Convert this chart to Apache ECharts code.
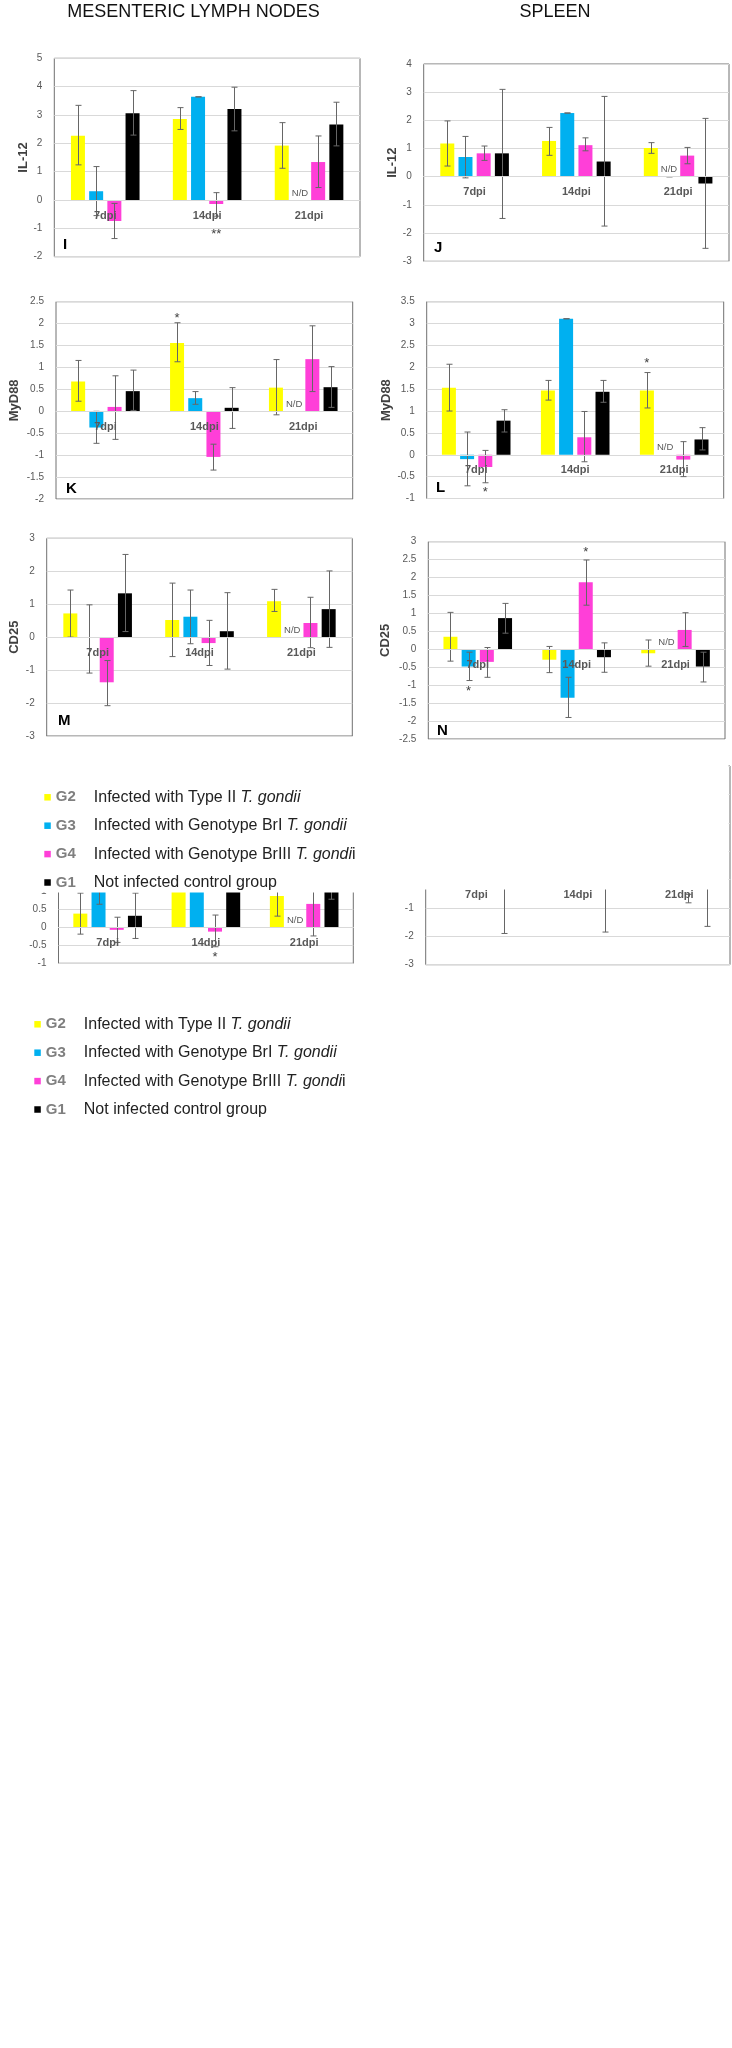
<!DOCTYPE html>
<html>
<head>
<meta charset="utf-8">
<script src="https://cdn.jsdelivr.net/npm/echarts@6/dist/echarts.min.js"></script>
<style>
html,body{margin:0;padding:0;background:#fff;}
#chart{width:732px;height:2048px;}
</style>
</head>
<body>
<div id="chart"></div>
<script>
// ---------------- DATA ----------------
const CATS = ['7dpi', '14dpi', '21dpi'];
const GROUPS = ['G2', 'G3', 'G4', 'G1'];
const LEGEND_TEXT = [
  ['Infected with Type II ', 'T. gondii', ''],
  ['Infected with Genotype BrI ', 'T. gondii', ''],
  ['Infected with Genotype BrIII ', 'T. gondi', 'i'],
  ['Not infected control group', '', '']
];
// order of rows: G2, G3, G4, G1 ; columns: 7dpi, 14dpi, 21dpi
// Panel I  (MLN, IL-12)
const I_MEAN = [[2.27, 2.86, 1.92], [0.31, 3.64, null], [-0.74, -0.14, 1.34], [3.06, 3.21, 2.66]];
const I_LOW  = [[1.24, 2.49, 1.12], [-0.55, 3.64, null], [-1.36, -0.57, 0.44], [2.29, 2.44, 1.91]];
const I_HIGH = [[3.34, 3.26, 2.73], [1.18, 3.64, null], [-0.12, 0.26, 2.26], [3.86, 3.98, 3.45]];
const I_NOTES = [[1, 2, -1.1, '**'], [2, 1, 0, 'N/D']];
// Panel J  (Spleen, IL-12)
const J_MEAN = [[1.18, 1.27, 1.02], [0.70, 2.26, null], [0.83, 1.12, 0.75], [0.83, 0.54, -0.24]];
const J_LOW  = [[0.38, 0.76, 0.83], [-0.04, 2.26, 0], [0.58, 0.92, 0.46], [-1.48, -1.75, -2.54]];
const J_HIGH = [[1.98, 1.75, 1.21], [1.43, 2.26, 0], [1.09, 1.38, 1.04], [3.10, 2.85, 2.07]];
const J_NOTES = [[2, 1, 0, 'N/D']];
// Panel K  (MLN, MyD88)
const K_MEAN = [[0.68, 1.56, 0.54], [-0.37, 0.30, null], [0.10, -1.04, 1.19], [0.46, 0.08, 0.55]];
const K_LOW  = [[0.23, 1.13, -0.08], [-0.73, 0.16, null], [-0.64, -1.34, 0.45], [0.02, -0.39, 0.09]];
const K_HIGH = [[1.16, 2.02, 1.18], [0.0, 0.45, null], [0.81, -0.75, 1.95], [0.94, 0.54, 1.02]];
const K_NOTES = [[1, 0, 2.18, '*'], [2, 1, 0, 'N/D']];
// Panel L  (Spleen, MyD88)
const L_MEAN = [[1.53, 1.47, 1.47], [-0.10, 3.11, null], [-0.28, 0.40, -0.11], [0.78, 1.44, 0.35]];
const L_LOW  = [[1.00, 1.25, 1.07], [-0.71, 3.11, null], [-0.64, -0.16, -0.50], [0.52, 1.20, 0.11]];
const L_HIGH = [[2.07, 1.70, 1.88], [0.52, 3.11, null], [0.10, 0.99, 0.30], [1.03, 1.70, 0.62]];
const L_NOTES = [[0, 2, -0.80, '*'], [2, 0, 2.16, '*'], [2, 1, 0, 'N/D']];
// Panel M  (MLN, CD25)
const M_MEAN = [[0.72, 0.52, 1.09], [-0.02, 0.62, null], [-1.37, -0.18, 0.43], [1.33, 0.18, 0.85]];
const M_LOW  = [[0.0, -0.59, 0.78], [-1.09, -0.20, null], [-2.08, -0.86, -0.32], [0.17, -0.97, -0.31]];
const M_HIGH = [[1.43, 1.64, 1.45], [0.98, 1.43, null], [-0.71, 0.51, 1.21], [2.51, 1.35, 2.01]];
const M_NOTES = [[2, 1, 0, 'N/D']];
// Panel N  (Spleen, CD25)
const N_MEAN = [[0.35, -0.29, -0.11], [-0.48, -1.35, null], [-0.35, 1.87, 0.54], [0.87, -0.22, -0.48]];
const N_LOW  = [[-0.33, -0.65, -0.47], [-0.87, -1.90, null], [-0.78, 1.23, 0.08], [0.45, -0.64, -0.91]];
const N_HIGH = [[1.03, 0.08, 0.26], [-0.08, -0.78, null], [0.05, 2.49, 1.02], [1.28, 0.18, -0.08]];
const N_NOTES = [[0, 1, -1.09, '*'], [1, 2, 2.79, '*'], [2, 1, 0, 'N/D']];
// Fragment P (left, partly hidden)
const P_MEAN = [[0.38, 1.4, 0.87], [1.3, 1.6, null], [-0.07, -0.12, 0.65], [0.32, 1.5, 1.1]];
const P_LOW  = [[-0.19, null, 0.31], [0.64, null, null], [-0.42, -0.54, -0.24], [-0.31, null, 0.78]];
const P_HIGH = [[0.95, null, 1.43], [1.96, null, null], [0.28, 0.34, 1.54], [0.95, null, 1.42]];
const P_NOTES = [[1, 2, -0.74, '*'], [2, 1, 0, 'N/D']];
// Fragment Q (right, partly hidden)
const Q_MEAN = [[null, null, null], [null, null, null], [null, null, null], [null, null, null]];
const Q_LOW  = [[null, null, null], [null, null, null], [null, null, -0.82], [-1.90, -1.85, -1.65]];
const Q_HIGH = [[null, null, null], [null, null, null], [null, null, -0.52], [0, 0, 0]];
const Q_NOTES = [];

// ---------------- STYLE / LAYOUT ----------------
const COLORS = ['#ffff00', '#00b0f0', '#ff3fd8', '#000000'];
const FONT = 'Liberation Sans';
const BAR_W = 14, BAR_GAP = 0.3, STEP = BAR_W * (1 + BAR_GAP);

const PANELS = [
  {mean: I_MEAN, low: I_LOW, high: I_HIGH, notes: I_NOTES, grid: {left: 54.3, top: 58.3, width: 305.7, height: 198.4}, y: {min: -2, max: 5, interval: 1, name: 'IL-12', gap: 24}, letter: {t: 'I', x: 63, y: 245}},
  {mean: J_MEAN, low: J_LOW, high: J_HIGH, notes: J_NOTES, grid: {left: 423.7, top: 64, width: 305.3, height: 197.3}, y: {min: -3, max: 4, interval: 1, name: 'IL-12', gap: 24}, letter: {t: 'J', x: 434, y: 248}},
  {mean: K_MEAN, low: K_LOW, high: K_HIGH, notes: K_NOTES, grid: {left: 56, top: 301.7, width: 296.7, height: 197.3}, y: {min: -2, max: 2.5, interval: 0.5, name: 'MyD88', gap: 35}, letter: {t: 'K', x: 66, y: 489}},
  {mean: L_MEAN, low: L_LOW, high: L_HIGH, notes: L_NOTES, grid: {left: 426.7, top: 301.7, width: 297, height: 196.8}, y: {min: -1, max: 3.5, interval: 0.5, name: 'MyD88', gap: 34}, letter: {t: 'L', x: 436, y: 488}},
  {mean: M_MEAN, low: M_LOW, high: M_HIGH, notes: M_NOTES, grid: {left: 46.7, top: 538.3, width: 305.6, height: 197.7}, y: {min: -3, max: 3, interval: 1, name: 'CD25', gap: 26}, letter: {t: 'M', x: 58, y: 721}},
  {mean: N_MEAN, low: N_LOW, high: N_HIGH, notes: N_NOTES, grid: {left: 428.3, top: 541.7, width: 296.7, height: 197.3}, y: {min: -2.5, max: 3, interval: 0.5, name: 'CD25', gap: 36}, letter: {t: 'N', x: 437, y: 731}},
  {mean: P_MEAN, low: P_LOW, high: P_HIGH, notes: P_NOTES, grid: {left: 58.5, top: 783.3, width: 294.8, height: 180}, y: {min: -1, max: 4, interval: 0.5, name: '', gap: 30}, letter: null},
  {mean: Q_MEAN, low: Q_LOW, high: Q_HIGH, notes: Q_NOTES, grid: {left: 425.7, top: 766, width: 304.3, height: 198.7}, y: {min: -3, max: 4, interval: 1, name: '', gap: 30}, letter: null}
];

function errRows(low, high) {
  const rows = [];
  for (let s = 0; s < GROUPS.length; s++)
    for (let c = 0; c < CATS.length; c++)
      if (low[s][c] != null && high[s][c] != null) rows.push([c, s, low[s][c], high[s][c]]);
  return rows;
}
function errRender(params, api) {
  const c = api.value(0), s = api.value(1);
  const pLo = api.coord([c, api.value(2)]);
  const pHi = api.coord([c, api.value(3)]);
  const x = Math.round(pLo[0] + (s - 1.5) * STEP) + 0.5;
  const st = {stroke: '#666666', lineWidth: 1};
  return {type: 'group', children: [
    {type: 'line', shape: {x1: x, y1: pHi[1], x2: x, y2: pLo[1]}, style: st},
    {type: 'line', shape: {x1: x - 3, y1: pHi[1], x2: x + 3, y2: pHi[1]}, style: st},
    {type: 'line', shape: {x1: x - 3, y1: pLo[1], x2: x + 3, y2: pLo[1]}, style: st}
  ]};
}
function noteRender(notes) {
  return function (params, api) {
    const n = notes[params.dataIndex];
    const p = api.coord([api.value(0), api.value(2)]);
    const x = p[0] + (api.value(1) - 1.5) * STEP;
    if (n[3] === 'N/D') {
      return {type: 'text', x: x, y: p[1] - 2, style: {text: 'N/D', fill: '#595959', font: '9.5px "' + FONT + '"', align: 'center', verticalAlign: 'bottom'}};
    }
    return {type: 'text', x: x, y: p[1] + 3, style: {text: n[3], fill: '#404040', font: '13px "' + FONT + '"', align: 'center', verticalAlign: 'middle'}};
  };
}

const grids = [], xAxes = [], yAxes = [], series = [], graphics = [];
PANELS.forEach((p, i) => {
  grids.push(Object.assign({show: true, borderColor: '#707070', borderWidth: 1, backgroundColor: 'transparent', containLabel: false}, p.grid));
  // place the category axis (line + labels) on the zero value of the y scale
  const zeroOffset = -p.grid.height * (0 - p.y.min) / (p.y.max - p.y.min);
  xAxes.push({type: 'category', gridIndex: i, data: CATS, z: 10, position: 'bottom', offset: zeroOffset,
    axisLine: {onZero: false, lineStyle: {color: '#d9d9d9', width: 1}},
    axisTick: {show: false},
    axisLabel: {color: '#595959', fontWeight: 'bold', fontSize: 11, fontFamily: FONT, margin: 10}});
  yAxes.push({type: 'value', gridIndex: i, min: p.y.min, max: p.y.max, interval: p.y.interval,
    name: p.y.name, nameLocation: 'middle', nameGap: p.y.gap,
    nameTextStyle: {fontWeight: 'bold', fontSize: 13, color: '#404040', fontFamily: FONT},
    axisLine: {show: false}, axisTick: {show: false},
    axisLabel: {color: '#595959', fontSize: 10, fontFamily: FONT, margin: 12},
    splitLine: {lineStyle: {color: '#d9d9d9', width: 1}}});
  GROUPS.forEach((g, s) => {
    series.push({type: 'bar', name: g, xAxisIndex: i, yAxisIndex: i, data: p.mean[s],
      barWidth: BAR_W, barGap: (BAR_GAP * 100) + '%', itemStyle: {color: COLORS[s]}, silent: true, z: 2});
  });
  series.push({type: 'custom', xAxisIndex: i, yAxisIndex: i, data: errRows(p.low, p.high),
    encode: {x: 0, y: 2}, renderItem: errRender, silent: true, z: 5});
  if (p.notes.length) {
    series.push({type: 'custom', xAxisIndex: i, yAxisIndex: i, data: p.notes.map(n => [n[0], n[1], n[2]]),
      encode: {x: 0, y: 2}, renderItem: noteRender(p.notes), silent: true, z: 6});
  }
  if (p.letter) {
    graphics.push({type: 'text', x: p.letter.x, y: p.letter.y, z: 120,
      style: {text: p.letter.t, fill: '#000', font: 'bold 15px "' + FONT + '"', align: 'left', verticalAlign: 'middle'}});
  }
});

// column titles
graphics.push({type: 'text', x: 193.5, y: 12, z: 120, style: {text: 'MESENTERIC LYMPH NODES', fill: '#111', font: '18px "' + FONT + '"', align: 'center', verticalAlign: 'middle'}});
graphics.push({type: 'text', x: 555, y: 12, z: 120, style: {text: 'SPLEEN', fill: '#111', font: '18px "' + FONT + '"', align: 'center', verticalAlign: 'middle'}});
// white patches hiding the upper part of the two lower fragments
graphics.push({type: 'rect', z: 100, shape: {x: 0, y: 745, width: 366, height: 147.5}, style: {fill: '#ffffff'}});
graphics.push({type: 'rect', z: 100, shape: {x: 366, y: 745, width: 362.5, height: 144.5}, style: {fill: '#ffffff'}});

function legendFmt(name) {
  const k = GROUPS.indexOf(name);
  const t = LEGEND_TEXT[k];
  let s = '{g|' + name + '}{t|' + t[0] + '}';
  if (t[1]) s += '{it|' + t[1] + '}';
  if (t[2]) s += '{t|' + t[2] + '}';
  return s;
}
function makeLegend(left, top) {
  return {left: left, top: top, orient: 'vertical', padding: 0, itemWidth: 6.5, itemHeight: 6.5,
    itemGap: 10.4, icon: 'rect', selectedMode: false, data: GROUPS, z: 200, formatter: legendFmt,
    textStyle: {lineHeight: 18, rich: {
      g: {fontFamily: FONT, fontWeight: 'bold', fontSize: 15, color: '#7f7f7f', width: 38, lineHeight: 18},
      t: {fontFamily: FONT, fontSize: 16, color: '#222222', lineHeight: 18},
      it: {fontFamily: FONT, fontSize: 16, fontStyle: 'italic', color: '#222222', lineHeight: 18}
    }}};
}

const option = {
  animation: false,
  backgroundColor: '#ffffff',
  textStyle: {fontFamily: FONT},
  grid: grids, xAxis: xAxes, yAxis: yAxes, series: series,
  legend: [makeLegend(44.3, 788.3), makeLegend(34.3, 1015.3)],
  graphic: {elements: graphics}
};
const chart = echarts.init(document.getElementById('chart'), null, {renderer: 'canvas', width: 732, height: 2048});
chart.setOption(option);
</script>
</body>
</html>
